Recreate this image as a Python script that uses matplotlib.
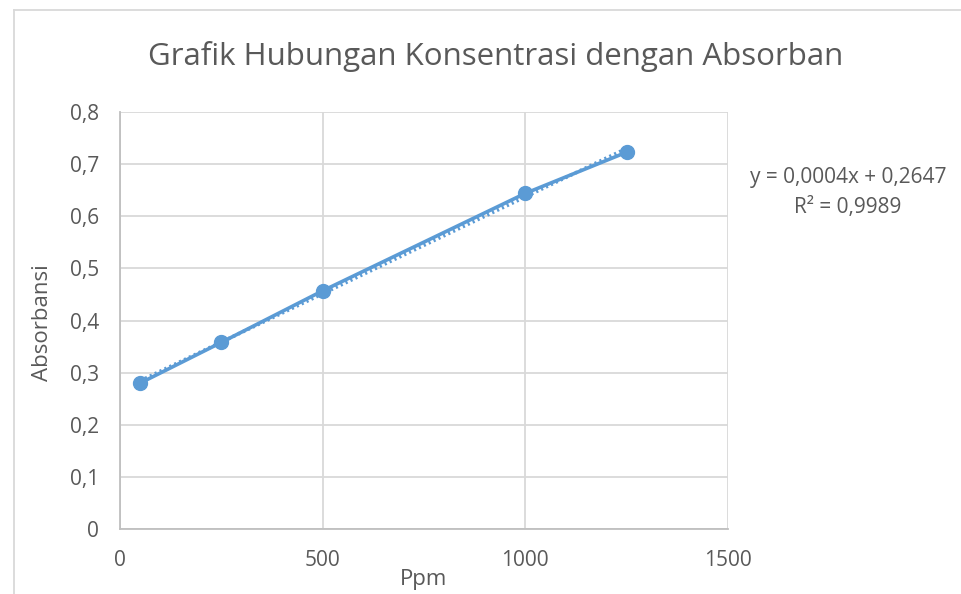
import numpy as np
import matplotlib
matplotlib.use("Agg")
import matplotlib.pyplot as plt
from matplotlib.lines import Line2D

# Concentration (ppm) vs absorbance
ppm = [50, 250, 500, 1000, 1250]
absorbansi = [0.280, 0.358, 0.457, 0.644, 0.723]

x_ticks = [0, 500, 1000, 1500]
y_ticks = [0, 0.1, 0.2, 0.3, 0.4, 0.5, 0.6, 0.7, 0.8]
y_labels = ["0", "0,1", "0,2", "0,3", "0,4", "0,5", "0,6", "0,7", "0,8"]

plt.rcParams['font.family'] = ['Open Sans', 'DejaVu Sans']
blue = "#5B9BD5"
text_col = "#595959"
grid_col = "#D9D9D9"

fig = plt.figure(figsize=(9.62, 5.94), dpi=100)
ax = fig.add_axes([0.1247, 0.1094, 0.6321, 0.7020])

# linear trendline
slope, intercept = np.polyfit(ppm, absorbansi, 1)
fit_x = np.array([ppm[0], ppm[-1]])
ax.plot(fit_x, slope * fit_x + intercept, color=blue, lw=2.6,
        linestyle=(0, (0.6, 0.9)), dash_capstyle='butt', zorder=3)

ax.plot(ppm, absorbansi, color=blue, lw=2.6, marker='o', markersize=10,
        zorder=4)

ax.set_xlim(0, 1500)
ax.set_ylim(0, 0.8)
ax.set_xticks(x_ticks)
ax.set_yticks(y_ticks)
ax.set_yticklabels(y_labels)
ax.grid(True, color=grid_col, lw=1.3)
ax.set_axisbelow(True)
for side in ['top', 'right']:
    ax.spines[side].set_visible(False)
for side in ['left', 'bottom']:
    ax.spines[side].set_color("#BFBFBF")
    ax.spines[side].set_linewidth(1.3)
ax.tick_params(length=0, labelsize=15, labelcolor=text_col, pad=15)

ax.set_xlabel("Ppm", fontsize=16, color=text_col)
ax.set_ylabel("Absorbansi", fontsize=16, color=text_col)
ax.xaxis.label.set_verticalalignment('center')
ax.yaxis.label.set_verticalalignment('center')
ax.xaxis.set_label_coords(0.5, -0.122)
ax.yaxis.set_label_coords(-0.128, 0.496)

fig.text(0.515, 0.905, "Grafik Hubungan Konsentrasi dengan Absorban",
         ha='center', va='center', fontsize=22.5, color=text_col)

fig.text(0.8815, 0.702, "y = 0,0004x + 0,2647", ha='center', va='center',
         fontsize=15, color=text_col)
fig.text(0.8815, 0.650, "R² = 0,9989", ha='center', va='center',
         fontsize=15, color=text_col)

# chart area border (partly visible in the original crop)
fig.add_artist(Line2D([0.0146, 0.0146], [0, 0.983], color=grid_col, lw=1.3,
                      transform=fig.transFigure))
fig.add_artist(Line2D([0.0146, 1.0], [0.983, 0.983], color=grid_col, lw=1.3,
                      transform=fig.transFigure))

fig.savefig("out.png", dpi=100)
